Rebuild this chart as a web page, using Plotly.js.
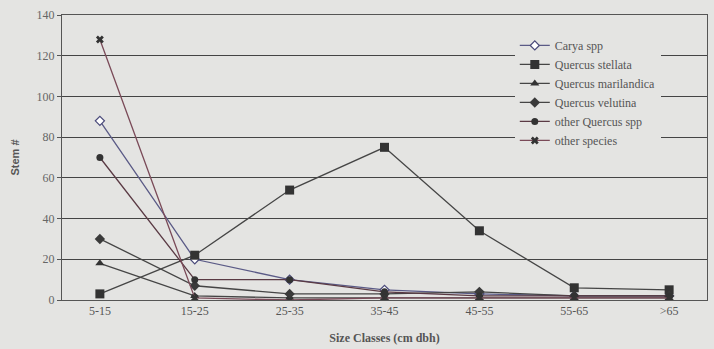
<!DOCTYPE html>
<html>
<head>
<meta charset="utf-8">
<script src="https://cdn.plot.ly/plotly-3.0.1.min.js"></script>
<style>html,body{margin:0;padding:0;background:#e4e4e2;}#chart{width:714px;height:349px;}</style>
</head>
<body>
<div id="chart"></div>
<script>
const categories = ["5-15", "15-25", "25-35", "35-45", "45-55", "55-65", ">65"];
const caryaSpp = [88, 20, 10, 5, 3, 2, 2];
const quercusStellata = [3, 22, 54, 75, 34, 6, 5];
const quercusMarilandica = [18, 2, 1, 1, 1, 1, 1];
const quercusVelutina = [30, 7, 3, 3, 4, 2, 2];
const otherQuercus = [70, 10, 10, 4, 2, 2, 2];
const otherSpecies = [128, 1, 0, 1, 1, 1, 1];

const SERIF = "'Times New Roman', 'Liberation Serif', 'DejaVu Serif', serif";

function tr(name, y, lineColor, symbol, size, markerColor, fill) {
  return {
    type: "scatter", mode: "lines+markers", name: name, x: categories, y: y,
    line: {color: lineColor, width: 1.3},
    marker: {symbol: symbol, size: size, color: fill || markerColor,
             line: {color: markerColor, width: fill ? 1.2 : 0}}
  };
}
const data = [
  tr("Carya spp", caryaSpp, "#5a5a86", "diamond", 7, "#4a4a7a", "#ffffff"),
  tr("Quercus stellata", quercusStellata, "#454545", "square", 9, "#333333"),
  tr("Quercus marilandica", quercusMarilandica, "#454545", "triangle-up", 8, "#333333"),
  tr("Quercus velutina", quercusVelutina, "#454545", "diamond", 8, "#3a3a3a"),
  tr("other Quercus spp", otherQuercus, "#5a3a44", "circle", 7, "#333333"),
  tr("other species", otherSpecies, "#7a4a58", "x", 7, "#333333")
];
const layout = {
  width: 714, height: 349,
  margin: {l: 62, r: 7, t: 15, b: 49},
  paper_bgcolor: "#e4e4e2", plot_bgcolor: "#e4e4e2",
  font: {family: SERIF, size: 12, color: "#555"},
  showlegend: true,
  legend: {x: 0.702, y: 0.944, xanchor: "left", yanchor: "top",
           bgcolor: "#e4e4e2", borderwidth: 0,
           font: {family: SERIF, size: 12, color: "#555"},
           tracegroupgap: 0},
  xaxis: {type: "category", showgrid: false, showline: true, mirror: true,
          linecolor: "#555", linewidth: 1, ticks: "", zeroline: false,
          tickfont: {family: SERIF, size: 12, color: "#555"},
          title: {text: "<b>Size Classes (cm dbh)</b>", standoff: 16,
                  font: {family: SERIF, size: 12, color: "#555"}}},
  yaxis: {range: [0, 140], dtick: 20, showgrid: true, gridcolor: "#444", gridwidth: 1,
          showline: true, linecolor: "#555", linewidth: 1, mirror: true, zeroline: false,
          ticks: "outside", ticklen: 4, tickcolor: "#555",
          tickfont: {family: SERIF, size: 12, color: "#666"},
          title: {text: "<b>Stem #</b>", standoff: 14,
                  font: {family: "'Liberation Sans', Arial, sans-serif", size: 11, color: "#555"}}}
};
Plotly.newPlot("chart", data, layout, {displayModeBar: false, staticPlot: true});
</script>
</body>
</html>
